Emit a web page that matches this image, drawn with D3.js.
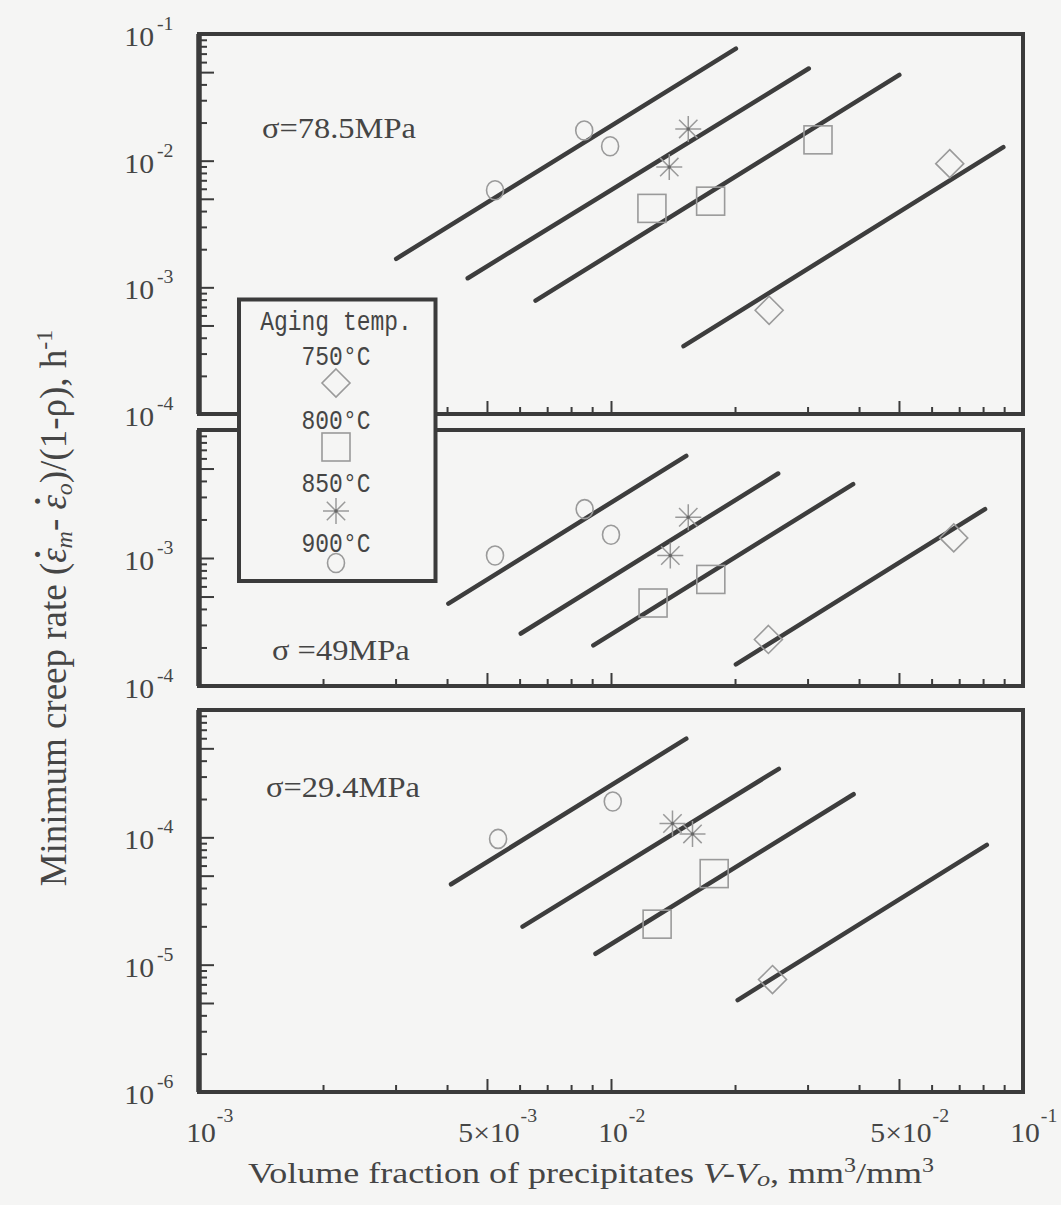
<!DOCTYPE html>
<html>
<head>
<meta charset="utf-8">
<script src="https://cdn.jsdelivr.net/npm/d3@7"></script>
<style>
  body { margin: 0; background: #f5f5f4; }
  svg { display: block; }
</style>
</head>
<body>
<script>
// ---- data ----
var xDomain = [1e-3, 1e-1];
var yDomains = [[1e-4, 1e-1], [1e-4, 1e-2], [1e-6, 1e-3]];
var stressLabels = ['σ=78.5MPa', 'σ =49MPa', 'σ=29.4MPa'];
var yLabelExps = [[-1, -2, -3, -4], [-3, -4], [-4, -5, -6]];
var xTickLabels = [
  {v: 1e-3, m: '', e: '-3'},
  {v: 5e-3, m: '5×', e: '-3'},
  {v: 1e-2, m: '', e: '-2'},
  {v: 5e-2, m: '5×', e: '-2'},
  {v: 1e-1, m: '', e: '-1'}
];
var legendTemps = ['750°C', '800°C', '850°C', '900°C'];

// fitted lines: [panel, x0, y0, x1, y1]
var fit900 = [[0, 3.01e-3, 1.68e-3, 2.01e-2, 7.66e-2], [1, 4.03e-3, 4.40e-4, 1.523e-2, 6.28e-3], [2, 4.09e-3, 4.28e-5, 1.523e-2, 5.95e-4]];
var fit850 = [[0, 4.49e-3, 1.18e-3, 3.02e-2, 5.34e-2], [1, 6.04e-3, 2.57e-4, 2.545e-2, 4.57e-3], [2, 6.1e-3, 1.99e-5, 2.555e-2, 3.45e-4]];
var fit800 = [[0, 6.56e-3, 7.85e-4, 5.01e-2, 4.76e-2], [1, 9.06e-3, 2.08e-4, 3.87e-2, 3.78e-3], [2, 9.17e-3, 1.218e-5, 3.88e-2, 2.18e-4]];
var fit750 = [[0, 1.50e-2, 3.43e-4, 8.96e-2, 1.28e-2], [1, 2.01e-2, 1.475e-4, 8.09e-2, 2.41e-3], [2, 2.03e-2, 5.27e-6, 8.17e-2, 8.73e-5]];

// measured points: [panel, x, y]
var pts900 = [[0, 5.23e-3, 5.84e-3], [0, 8.61e-3, 1.73e-2], [0, 9.95e-3, 1.30e-2],
              [1, 5.23e-3, 1.046e-3], [1, 8.63e-3, 2.41e-3], [1, 1.0e-2, 1.52e-3],
              [2, 5.32e-3, 9.72e-5], [2, 1.01e-2, 1.91e-4]];
var pts850 = [[0, 1.54e-2, 1.78e-2], [0, 1.385e-2, 8.9e-3],
              [1, 1.54e-2, 2.08e-3], [1, 1.393e-2, 1.046e-3],
              [2, 1.41e-2, 1.285e-4], [2, 1.577e-2, 1.063e-4]];
var pts800 = [[0, 3.18e-2, 1.46e-2], [0, 1.257e-2, 4.2e-3], [0, 1.745e-2, 4.79e-3],
              [1, 1.265e-2, 4.45e-4], [1, 1.747e-2, 6.8e-4],
              [2, 1.78e-2, 5.19e-5], [2, 1.294e-2, 2.08e-5]];
var pts750 = [[0, 6.64e-2, 9.47e-3], [0, 2.42e-2, 6.59e-4],
              [1, 6.79e-2, 1.436e-3], [1, 2.41e-2, 2.31e-4],
              [2, 2.466e-2, 7.64e-6]];

// ---- layout ----
var W = 1061, H = 1205;
var left = 199, right = 1023;
var panels = [{t: 34, b: 414}, {t: 430, b: 686}, {t: 710, b: 1092}];
var ink = '#3b3b3b', txt = '#454545', mk = '#9a9a9a';
var serif = '"Liberation Serif", "Times New Roman", serif';

var svg = d3.select('body').append('svg').attr('width', W).attr('height', H);
svg.append('rect').attr('width', W).attr('height', H).attr('fill', '#f5f5f4');

var x = d3.scaleLog().domain(xDomain).range([left, right]);

// marker shapes
function drawMarker(g, kind, cx, cy) {
  if (kind === 'circle') {
    g.append('ellipse').attr('cx', cx).attr('cy', cy).attr('rx', 8.5).attr('ry', 9.5)
      .attr('fill', 'none').attr('stroke', mk).attr('stroke-width', 1.6);
  } else if (kind === 'square') {
    g.append('rect').attr('x', cx - 14).attr('y', cy - 14).attr('width', 28).attr('height', 28)
      .attr('fill', 'none').attr('stroke', mk).attr('stroke-width', 1.6);
  } else if (kind === 'diamond') {
    g.append('path').attr('d', 'M' + cx + ',' + (cy - 14) + 'L' + (cx + 14) + ',' + cy + 'L' + cx + ',' + (cy + 14) + 'L' + (cx - 14) + ',' + cy + 'Z')
      .attr('fill', 'none').attr('stroke', mk).attr('stroke-width', 1.6);
  } else {
    var r = 13, d = 9.2;
    g.append('path').attr('d',
        'M' + (cx - r) + ',' + cy + 'H' + (cx + r) +
        'M' + cx + ',' + (cy - r) + 'V' + (cy + r) +
        'M' + (cx - d) + ',' + (cy - d) + 'L' + (cx + d) + ',' + (cy + d) +
        'M' + (cx - d) + ',' + (cy + d) + 'L' + (cx + d) + ',' + (cy - d))
      .attr('stroke', mk).attr('stroke-width', 1.5).attr('fill', 'none');
    g.append('circle').attr('cx', cx).attr('cy', cy).attr('r', 1.8).attr('fill', '#666');
  }
}

// text with horizontal stretch (the scanned lettering is wide)
function stretched(parent, tx, ty, sx, rot) {
  return parent.append('g')
    .attr('transform', 'translate(' + tx + ',' + ty + ')' + (rot ? ' rotate(' + rot + ')' : '') + ' scale(' + sx + ',1)')
    .append('text').attr('fill', txt).style('font-family', serif);
}

function logTicks(dom) {
  var lo = Math.round(Math.log10(dom[0])), hi = Math.round(Math.log10(dom[1]));
  var major = [], minor = [];
  for (var e = lo; e < hi; e++) {
    for (var m = 1; m < 10; m++) {
      var v = m * Math.pow(10, e);
      if (m === 1 || m === 5) major.push(v); else minor.push(v);
    }
  }
  major.push(Math.pow(10, hi));
  return {major: major, minor: minor};
}

var series = [
  {fit: fit900, pts: pts900, kind: 'circle'},
  {fit: fit850, pts: pts850, kind: 'star'},
  {fit: fit800, pts: pts800, kind: 'square'},
  {fit: fit750, pts: pts750, kind: 'diamond'}
];

var xt = logTicks(xDomain);

panels.forEach(function (p, i) {
  var y = d3.scaleLog().domain(yDomains[i]).range([p.b, p.t]);
  var g = svg.append('g').attr('class', 'panel');
  var yt = logTicks(yDomains[i]);

  // inward ticks
  [[yt.minor, -8], [yt.major, -15]].forEach(function (s) {
    g.append('g').attr('transform', 'translate(' + left + ',0)')
      .call(d3.axisLeft(y).tickValues(s[0]).tickSize(s[1]).tickFormat(''));
  });
  [[xt.minor, -7], [xt.major, -13]].forEach(function (s) {
    g.append('g').attr('transform', 'translate(0,' + p.b + ')')
      .call(d3.axisBottom(x).tickValues(s[0]).tickSize(s[1]).tickFormat(''));
  });
  g.selectAll('.domain').remove();
  g.selectAll('.tick line').attr('stroke', ink).attr('stroke-width', 2);

  // frame
  g.append('rect').attr('x', left).attr('y', p.t).attr('width', right - left).attr('height', p.b - p.t)
    .attr('fill', 'none').attr('stroke', ink).attr('stroke-width', 4);
  g.append('line').attr('x1', left).attr('x2', left).attr('y1', p.t).attr('y2', p.b)
    .attr('stroke', ink).attr('stroke-width', 5.5);

  // fitted lines
  series.forEach(function (s) {
    s.fit.filter(function (f) { return f[0] === i; }).forEach(function (f) {
      g.append('line')
        .attr('x1', x(f[1])).attr('y1', y(f[2])).attr('x2', x(f[3])).attr('y2', y(f[4]))
        .attr('stroke', '#3d3d3d').attr('stroke-width', 4.5).attr('stroke-linecap', 'round');
    });
  });
  // points
  series.forEach(function (s) {
    s.pts.filter(function (d) { return d[0] === i; }).forEach(function (d) {
      drawMarker(g, s.kind, x(d[1]), y(d[2]));
    });
  });

  // stress label
  var sl = [138, 660, 797][i];
  var sx0 = [262, 272, 266][i];
  stretched(g, sx0, sl, 1.12, 0).attr('font-size', 29).text(stressLabels[i]);

  // y tick labels
  yLabelExps[i].forEach(function (e) {
    var ty = y(Math.pow(10, e));
    stretched(g, 154, ty + 12, 1.1, 0).attr('font-size', 27).attr('text-anchor', 'end').text('10');
    stretched(g, 157, ty - 4, 1.1, 0).attr('font-size', 18).text(e);
  });
});

// x tick labels
xTickLabels.forEach(function (t) {
  var cx = x(t.v) + 2;
  var base = t.m + '10';
  var tEl = stretched(svg, cx, 1142, 1.1, 0).attr('font-size', 27).attr('text-anchor', 'middle').text(base);
  var w = tEl.node().getComputedTextLength() * 1.1;
  stretched(svg, cx + w / 2 + 1, 1122, 1.1, 0).attr('font-size', 18).text(t.e);
});

// x axis title
var xtl = stretched(svg, 591, 1183, 1.2, 0).attr('font-size', 30).attr('text-anchor', 'middle');
xtl.append('tspan').text('Volume fraction of precipitates ');
xtl.append('tspan').style('font-style', 'italic').text('V-V');
xtl.append('tspan').style('font-style', 'italic').attr('font-size', 22).attr('dy', 3).text('o');
xtl.append('tspan').attr('dy', -3).text(', mm');
xtl.append('tspan').attr('font-size', 20).attr('dy', -11).text('3');
xtl.append('tspan').attr('dy', 11).text('/mm');
xtl.append('tspan').attr('font-size', 20).attr('dy', -11).text('3');

// y axis title (dots over epsilon drawn as raised bullets)
var ytl = stretched(svg, 66, 608, 1.0, -90).attr('font-size', 37).attr('text-anchor', 'middle');
function epsDot(sub) {
  ytl.append('tspan').style('font-style', 'italic').text('ε');
  ytl.append('tspan').attr('font-size', 22).attr('dx', -10).attr('dy', -21).text('•');
  ytl.append('tspan').style('font-style', 'italic').attr('font-size', 24).attr('dx', 2).attr('dy', 27).text(sub);
}
ytl.append('tspan').text('Minimum creep rate (');
epsDot('m');
ytl.append('tspan').attr('dy', -6).text('- ');
epsDot('o');
ytl.append('tspan').attr('dy', -6).text(')/(1-ρ), h');
ytl.append('tspan').attr('font-size', 24).attr('dy', -14).text('-1');

// legend box (drawn over the panel borders)
var lg = svg.append('g').attr('class', 'legend');
lg.append('rect').attr('x', 239).attr('y', 299.5).attr('width', 196.5).attr('height', 281.5)
  .attr('fill', '#f5f5f4').attr('stroke', ink).attr('stroke-width', 4);
var mono = '"Liberation Mono", "DejaVu Sans Mono", monospace';
function legendText(ty, s) {
  lg.append('g').attr('transform', 'translate(336,' + ty + ') scale(0.82,1)')
    .append('text').attr('text-anchor', 'middle').attr('font-size', 28)
    .style('font-family', mono).attr('fill', txt).text(s);
}
legendText(330, 'Aging temp.');
var kinds = ['diamond', 'square', 'star', 'circle'];
var textBase = [365, 429, 492, 552];
var markY = [383, 447, 511, 563];
legendTemps.forEach(function (t, k) {
  legendText(textBase[k], t);
  drawMarker(lg, kinds[k], 336, markY[k]);
});
</script>
</body>
</html>
